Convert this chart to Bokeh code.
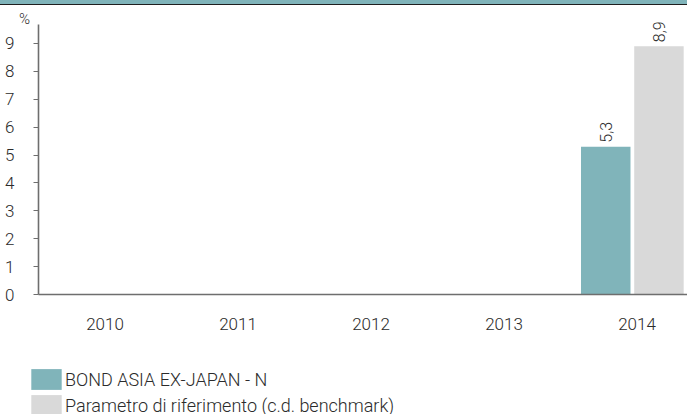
from bokeh.plotting import figure
from bokeh.models import (Range1d, FixedTicker, Legend, LegendItem, Div,
                          ColumnDataSource, Label)
from bokeh.layouts import column
from bokeh.transform import dodge
from bokeh.core.properties import value
from bokeh.embed import file_html
from bokeh.resources import INLINE

NaN = float("nan")

# ---- data ----
years = ["2010", "2011", "2012", "2013", "2014"]
fund_name = "BOND ASIA EX-JAPAN - N"
bench_name = "Parametro di riferimento (c.d. benchmark)"
fund_values = [NaN, NaN, NaN, NaN, 5.3]
bench_values = [NaN, NaN, NaN, NaN, 8.9]
y_ticks = [0, 1, 2, 3, 4, 5, 6, 7, 8, 9]
y_unit = "%"

# ---- style / layout ----
TEAL = "#80B4BA"
GREY = "#D9D9D9"
AXIS = "#6E6E6E"
TEXT = "#2B2B2B"
FONT = "Roboto Light"
W, H_BAND, H = 687, 5, 409          # figure below a thin band
X0, Y0 = 38, 294                    # pixel position of the axes origin (page)
CAT_W, UNIT_H = 133.0, 27.9         # pixels per category / per unit
Y_TOP = 9.68                        # top of the value axis line

x_start = -0.5 - X0 / CAT_W
x_end = -0.5 + (W - X0) / CAT_W
y_start = -(H_BAND + H - Y0) / UNIT_H
y_end = (Y0 - H_BAND) / UNIT_H

idx = list(range(len(years)))
src = ColumnDataSource(dict(x=idx, fund=fund_values, bench=bench_values))

p = figure(width=W, height=H, output_backend="svg", toolbar_location=None,
           x_range=Range1d(x_start, x_end), y_range=Range1d(y_start, y_end),
           min_border=0)
p.outline_line_color = None
p.xgrid.visible = False
p.ygrid.visible = False
p.background_fill_color = "white"
p.border_fill_color = "white"

OFF_F, OFF_B, BW = -0.235, 0.165, 0.372
r1 = p.vbar(x=dodge("x", OFF_F), top="fund", bottom=0, width=BW, source=src,
            fill_color=TEAL, line_color=None)
r2 = p.vbar(x=dodge("x", OFF_B), top="bench", bottom=0, width=BW, source=src,
            fill_color=GREY, line_color=None)

# value labels (rotated)
lx, ly, lt = [], [], []
for i, v in zip(idx, fund_values):
    if v == v:
        lx.append(i + OFF_F); ly.append(v); lt.append(f"{v:.1f}".replace(".", ","))
for i, v in zip(idx, bench_values):
    if v == v:
        lx.append(i + OFF_B); ly.append(v); lt.append(f"{v:.1f}".replace(".", ","))
p.text(x=lx, y=ly, text=lt, angle=1.5707963, text_align="left",
       text_baseline="middle", y_offset=-4, text_font=value(FONT),
       text_font_size="16px", text_color=TEXT)

# axes (fixed at the origin, inside the frame)
xa = p.xaxis[0]
xa.fixed_location = 0
xa.bounds = (-0.5, x_end)
xa.ticker = FixedTicker(ticks=idx)
xa.major_label_overrides = {i: y for i, y in zip(idx, years)}
xa.major_tick_line_color = None
xa.minor_tick_line_color = None
xa.axis_line_color = AXIS
xa.axis_line_width = 1.6
xa.major_label_standoff = 17
xa.major_label_text_font = FONT
xa.major_label_text_font_size = "17px"
xa.major_label_text_color = TEXT

ya = p.yaxis[0]
ya.fixed_location = -0.5
ya.bounds = (0, Y_TOP)
ya.ticker = FixedTicker(ticks=y_ticks)
ya.minor_tick_line_color = None
ya.major_tick_in = 0
ya.major_tick_out = 5
ya.major_tick_line_color = AXIS
ya.axis_line_color = AXIS
ya.axis_line_width = 1.6
ya.major_label_standoff = 19
ya.major_label_text_font = FONT
ya.major_label_text_font_size = "17px"
ya.major_label_text_color = TEXT

p.add_layout(Label(x=-0.5, y=Y_TOP, x_offset=-14, y_offset=-4, text=y_unit,
                   text_align="center", text_baseline="bottom",
                   text_font=FONT, text_font_size="15px", text_color=TEXT))

legend = Legend(items=[LegendItem(label=fund_name, renderers=[r1]),
                       LegendItem(label=bench_name, renderers=[r2])],
                location=(27, -4), orientation="vertical",
                glyph_width=38, glyph_height=26, label_height=26,
                spacing=-1, padding=0, margin=0, label_standoff=0,
                border_line_color=None, background_fill_alpha=0,
                label_text_font=FONT, label_text_font_size="18px",
                label_text_color=TEXT)
p.add_layout(legend)

band = Div(text="", width=W, height=H_BAND, margin=0,
           styles={"background-color": TEAL,
                   "border-bottom": "1.5px solid #1E1E1E",
                   "box-sizing": "border-box"})

layout = column(band, p, spacing=0)
open("out.html", "w").write(file_html(layout, INLINE))
